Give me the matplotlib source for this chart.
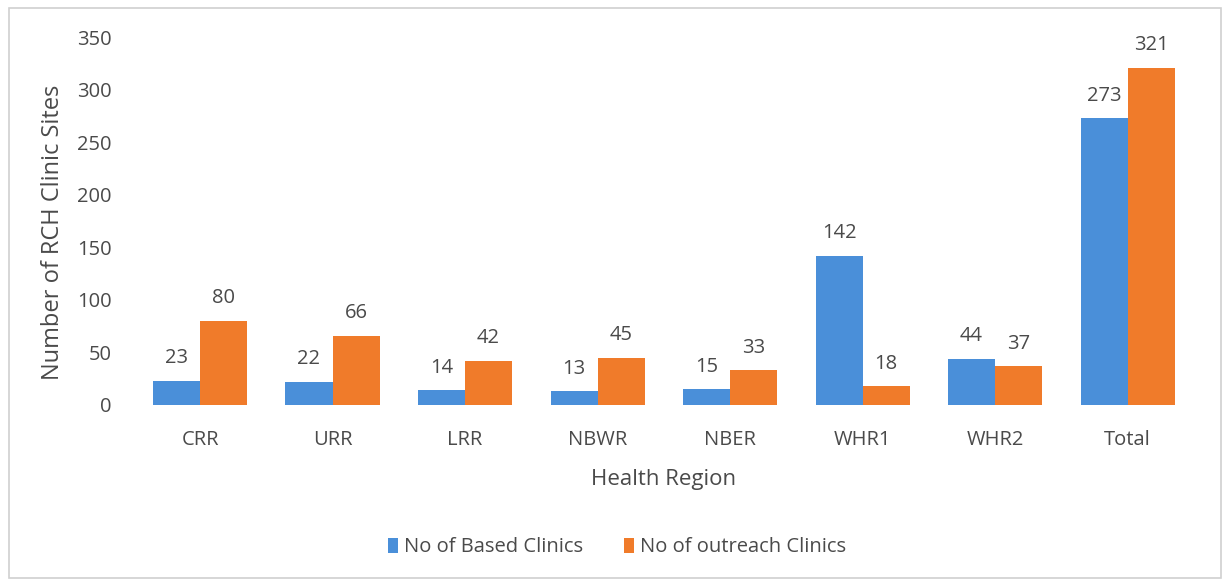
import matplotlib

matplotlib.use("Agg")

import matplotlib.pyplot as plt
import numpy as np
from matplotlib.patches import Rectangle

regions = ["CRR", "URR", "LRR", "NBWR", "NBER", "WHR1", "WHR2", "Total"]
based_clinics = [23, 22, 14, 13, 15, 142, 44, 273]
outreach_clinics = [80, 66, 42, 45, 33, 18, 37, 321]
y_ticks = [0, 50, 100, 150, 200, 250, 300, 350]

BLUE = "#4a8fd9"
ORANGE = "#f07b2a"
TEXT = "#4a4a4a"

plt.rcParams["font.family"] = ["Open Sans", "DejaVu Sans"]

fig = plt.figure(figsize=(12.27, 5.81), dpi=100)
ax = fig.add_axes([0.109, 0.303, 0.864, 0.633])

x = np.arange(len(regions))
width = 0.355
b1 = ax.bar(x - width / 2, based_clinics, width, color=BLUE, label="No of Based Clinics")
b2 = ax.bar(x + width / 2, outreach_clinics, width, color=ORANGE, label="No of outreach Clinics")

# value labels above each bar
for bars in (b1, b2):
    for bar in bars:
        h = bar.get_height()
        ax.annotate(str(int(h)), (bar.get_x() + bar.get_width() / 2, h),
                    xytext=(0, 9), textcoords="offset points",
                    ha="center", va="bottom", fontsize=14.5, color=TEXT)

ax.set_xlim(-0.5, len(regions) - 0.5)
ax.set_ylim(0, 350)
ax.set_yticks(y_ticks)
ax.set_xticks(x)
ax.set_xticklabels(regions)
ax.tick_params(length=0, labelsize=14.5, colors=TEXT)
ax.tick_params(axis="y", pad=16)
ax.tick_params(axis="x", pad=18)
for side in ax.spines.values():
    side.set_visible(False)

ax.set_xlabel("Health Region", fontsize=16, color=TEXT, labelpad=14)
ax.set_ylabel("Number of RCH Clinic Sites", fontsize=17, color=TEXT)
ax.yaxis.set_label_coords(-0.065, 0.47)

fig.legend(handles=[b1, b2], loc="center", bbox_to_anchor=(0.503, 0.058), ncol=2,
           frameon=False, fontsize=14.5, labelcolor=TEXT, handlelength=0.5,
           handleheight=0.8, handletextpad=0.3, columnspacing=2.0)

fig.patches.append(Rectangle((0.007, 0.006), 0.988, 0.98, transform=fig.transFigure,
                             fill=False, edgecolor="#d0d0d0", linewidth=1.2))

fig.savefig("out.png", dpi=100)
